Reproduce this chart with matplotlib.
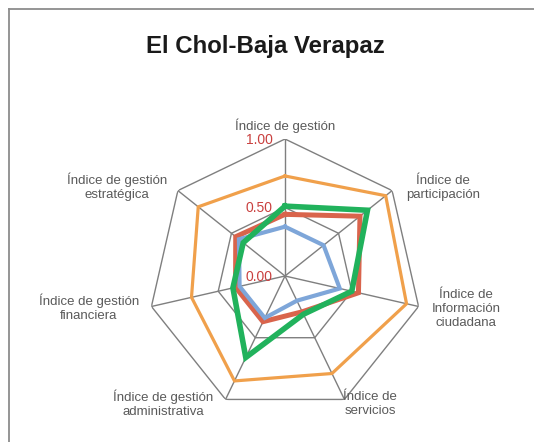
import numpy as np
import matplotlib
matplotlib.use("Agg")
import matplotlib.pyplot as plt
from matplotlib.lines import Line2D

# categories (clockwise from top)
categories = [
    "Índice de gestión",
    "Índice de\nparticipación",
    "Índice de\nInformación\nciudadana",
    "Índice de\nservicios",
    "Índice de gestión\nadministrativa",
    "Índice de gestión\nfinanciera",
    "Índice de gestión\nestratégica",
]

# series values
orange_vals = [0.73, 0.94, 0.91, 0.79, 0.85, 0.70, 0.81]
red_vals = [0.45, 0.70, 0.55, 0.29, 0.37, 0.37, 0.46]
blue_vals = [0.36, 0.36, 0.41, 0.20, 0.34, 0.34, 0.43]
green_vals = [0.51, 0.77, 0.50, 0.31, 0.66, 0.39, 0.39]

grid_levels = [0.5, 1.0]
tick_labels = ["0.00", "0.50", "1.00"]
tick_values = [0.0, 0.5, 1.0]

W, H = 534, 442
fig = plt.figure(figsize=(W / 100, H / 100), dpi=100)
fig.patch.set_facecolor("white")

def px(x, y):
    return x / W, 1 - y / H

# radar axes, center (285, 276) px, radius 137 px
cx, cy, R = 285, 276, 137
ax = fig.add_axes([(cx - R) / W, 1 - (cy + R) / H, 2 * R / W, 2 * R / H],
                  projection="polar")
ax.set_theta_offset(np.pi / 2)
ax.set_theta_direction(-1)
ax.set_ylim(0, 1)
ax.grid(False)
ax.spines["polar"].set_visible(False)
ax.set_xticks([])
ax.set_yticks([])
ax.patch.set_alpha(0)

n = len(categories)
angles = np.linspace(0, 2 * np.pi, n, endpoint=False)
closed = np.append(angles, angles[0])

grid_color = "#7f7f7f"
for lvl in grid_levels:
    ax.plot(closed, [lvl] * (n + 1), color=grid_color, lw=1.0, zorder=1)
for a in angles:
    ax.plot([a, a], [0, 1], color=grid_color, lw=1.0, zorder=1)

def close(v):
    return list(v) + [v[0]]

ax.plot(closed, close(orange_vals), color="#F0A04B", lw=2.3, zorder=3,
        solid_joinstyle="miter")
ax.plot(closed, close(red_vals), color="#D9644C", lw=3.6, zorder=4,
        solid_joinstyle="miter")
ax.plot(closed, close(blue_vals), color="#7EA6D9", lw=3.0, zorder=5,
        solid_joinstyle="miter")
ax.plot(closed, close(green_vals), color="#21B25C", lw=4.0, zorder=6,
        solid_joinstyle="miter")

# value labels along the top axis
for t, lab in zip(tick_values, tick_labels):
    x, y = px(cx - 12, cy - t * R + 1)
    fig.text(x, y, lab, ha="right", va="center", color="#C9403F",
             fontsize=10, family="Liberation Sans")

# category labels (pixel centers)
label_pos = [
    (285, 126), (443, 188), (466, 309), (370, 404),
    (163, 404), (89, 308), (117, 187),
]
for lab, (x, y) in zip(categories, label_pos):
    fx, fy = px(x, y)
    fig.text(fx, fy, lab, ha="center", va="center", color="#5a5a5a",
             fontsize=9.5, family="Liberation Sans", linespacing=1.2)

# title
tx, ty = px(265, 47)
fig.text(tx, ty, "El Chol-Baja Verapaz", ha="center", va="center",
         fontsize=17.3, fontweight="bold", color="#1a1a1a",
         family="Liberation Sans")

# chart frame (left and top edges visible)
x0, y0 = px(9, 9)
fig.add_artist(Line2D([x0, x0], [0, y0], color="#8c8c8c", lw=1.3))
fig.add_artist(Line2D([x0, 1], [y0, y0], color="#8c8c8c", lw=1.3))

fig.savefig("out.png", dpi=100)
